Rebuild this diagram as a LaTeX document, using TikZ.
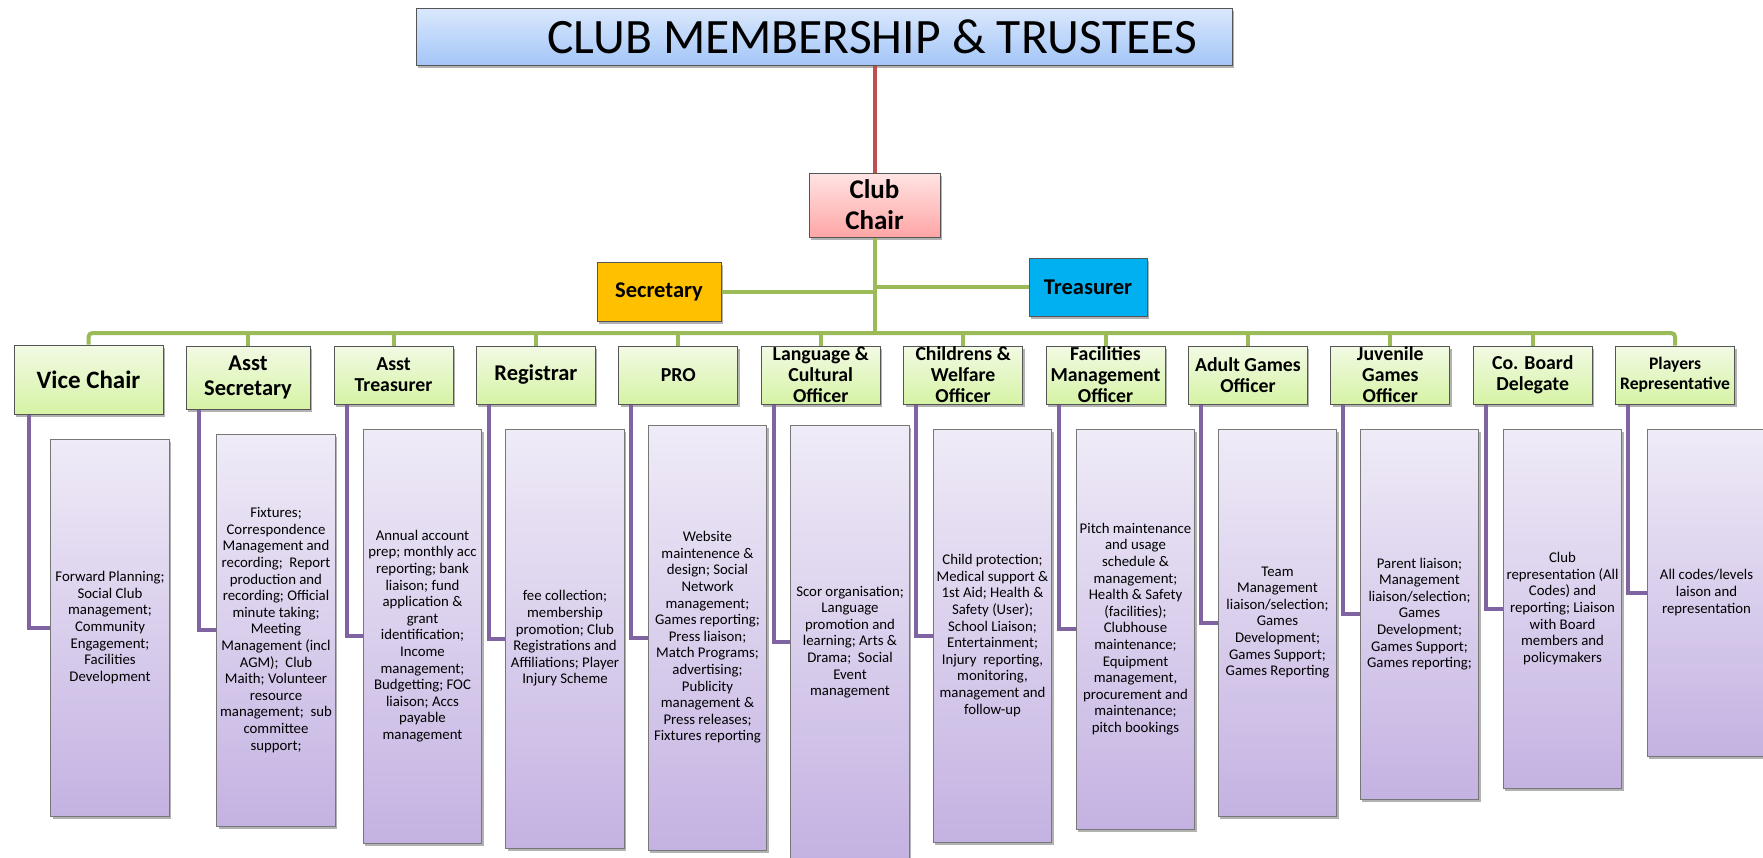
\documentclass[tikz,border=0pt]{standalone}
\usepackage{fontspec}
\setmainfont{Carlito}
\usetikzlibrary{shadows}
\definecolor{glineC}{RGB}{155,187,89}
\definecolor{plineC}{RGB}{128,100,162}
\definecolor{rlineC}{RGB}{192,80,77}
\definecolor{gTop}{RGB}{242,250,228}
\definecolor{gBot}{RGB}{214,243,165}
\definecolor{pTop}{RGB}{239,235,247}
\definecolor{pBot}{RGB}{196,178,226}
\definecolor{tTop}{RGB}{218,232,252}
\definecolor{tBot}{RGB}{164,198,248}
\definecolor{cTop}{RGB}{255,228,228}
\definecolor{cBot}{RGB}{255,165,165}
\definecolor{secC}{RGB}{255,192,0}
\definecolor{treC}{RGB}{0,176,240}
\definecolor{edgeC}{RGB}{85,85,85}
\tikzset{
  boxshadow/.style={drop shadow={shadow xshift=2pt,shadow yshift=-3pt,opacity=0.3,fill=black}},
  gbox/.style={draw=edgeC,line width=1pt,top color=gTop,bottom color=gBot,boxshadow,
    minimum width=119pt,minimum height=58pt,inner sep=0pt,align=center,
    font=\bfseries\fontsize{19.8}{21}\selectfont},
  dbox/.style={draw=edgeC!80,line width=1pt,top color=pTop,bottom color=pBot,boxshadow,
    minimum width=118.6pt,inner sep=0pt,align=center,
    font=\fontsize{14.8}{16.6}\selectfont},
  gl/.style={glineC,line width=4pt},
  pl/.style={plineC,line width=4pt},
  rl/.style={rlineC,line width=4pt},
}
\begin{document}
\begin{tikzpicture}[x=1pt,y=-1pt]
\useasboundingbox (0,0) rectangle (1763,857);
% top
\node[draw=edgeC,line width=1pt,top color=tTop,bottom color=tBot,boxshadow,
  minimum width=816pt,minimum height=57pt,inner sep=0pt,
  font=\fontsize{49.5}{52}\selectfont] (title) at (824,36.5) {\hspace*{96pt}CLUB MEMBERSHIP \& TRUSTEES};
\node[draw=edgeC,line width=1pt,top color=cTop,bottom color=cBot,boxshadow,
  minimum width=131pt,minimum height=64pt,inner sep=0pt,align=center,
  font=\bfseries\fontsize{27}{31}\selectfont] (chair) at (874.5,205) {Club\\Chair};
\node[draw=edgeC,line width=1pt,fill=secC,boxshadow,minimum width=124pt,minimum height=59pt,
  inner sep=0pt,font=\bfseries\fontsize{22.5}{25}\selectfont] (sec) at (659,291.5) {Secretary};
\node[draw=edgeC,line width=1pt,fill=treC,boxshadow,minimum width=118pt,minimum height=58pt,
  inner sep=0pt,font=\bfseries\fontsize{22.5}{25}\selectfont] (tre) at (1088,287) {Treasurer};
% role boxes
\node[gbox,minimum width=149pt,minimum height=69pt,font=\bfseries\fontsize{25}{28}\selectfont] (vc) at (88.5,379.5) {Vice Chair};
\node[gbox,minimum width=124pt,minimum height=63pt,font=\bfseries\fontsize{22.5}{25}\selectfont] (as) at (248,377.5) {Asst\\Secretary};
\node[gbox] (at) at (393.5,375) {Asst\\Treasurer};
\node[gbox,font=\bfseries\fontsize{22.5}{25}\selectfont] (reg) at (535.9,375) {Registrar};
\node[gbox] (pro) at (678.3,375) {PRO};
\node[gbox] (lang) at (820.7,375) {Language \&\\Cultural\\Officer};
\node[gbox] (child) at (963.1,375) {Childrens \&\\Welfare\\Officer};
\node[gbox] (fac) at (1105.5,375) {Facilities\\Management\\Officer};
\node[gbox] (adult) at (1247.9,375) {Adult Games\\Officer};
\node[gbox] (juv) at (1390.3,375) {Juvenile\\Games\\Officer};
\node[gbox] (cob) at (1532.7,375) {Co. Board\\Delegate};
\node[gbox,font=\bfseries\fontsize{17.6}{20}\selectfont] (pla) at (1675.1,375) {Players\\Representative};
% description boxes
\node[dbox,minimum height=377pt] (dvc) at (110,627.5) {Forward Planning;\\Social Club\\management;\\Community\\Engagement;\\Facilities\\Development};
\node[dbox,minimum height=392pt] (das) at (276,630) {Fixtures;\\Correspondence\\Management and\\recording;\ \ Report\\production and\\recording; Official\\minute taking;\\Meeting\\Management (incl\\AGM);\ \ Club\\Maith; Volunteer\\resource\\management;\ \ sub\\committee\\support;};
\node[dbox,minimum height=414pt] (dat) at (422.5,636) {Annual account\\prep; monthly acc\\reporting; bank\\liaison; fund\\application \&\\grant\\identification;\\Income\\management;\\Budgetting; FOC\\liaison; Accs\\payable\\management};
\node[dbox,minimum height=419pt] (dreg) at (565,638.5) {fee collection;\\membership\\promotion; Club\\Registrations and\\Affiliations; Player\\Injury Scheme};
\node[dbox,minimum height=425pt] (dpro) at (707.5,637.5) {Website\\maintenence \&\\design; Social\\Network\\management;\\Games reporting;\\Press liaison;\\Match Programs;\\advertising;\\Publicity\\management \&\\Press releases;\\Fixtures reporting};
\node[dbox,minimum height=434pt] (dlang) at (850,642) {Scor organisation;\\Language\\promotion and\\learning; Arts \&\\Drama;\ \ Social\\Event\\management};
\node[dbox,minimum height=413pt] (dchild) at (992.5,635.5) {Child protection;\\Medical support \&\\1st Aid; Health \&\\Safety (User);\\School Liaison;\\Entertainment;\\Injury\ \ reporting,\\monitoring,\\management and\\follow-up};
\node[dbox,minimum height=400pt] (dfac) at (1135.5,629) {Pitch maintenance\\and usage\\schedule \&\\management;\\Health \& Safety\\(facilities);\\Clubhouse\\maintenance;\\Equipment\\management,\\procurement and\\maintenance;\\pitch bookings};
\node[dbox,minimum height=387pt] (dadult) at (1277.5,622.5) {Team\\Management\\liaison/selection;\\Games\\Development;\\Games Support;\\Games Reporting};
\node[dbox,minimum height=370pt] (djuv) at (1419.5,614) {Parent liaison;\\Management\\liaison/selection;\\Games\\Development;\\Games Support;\\Games reporting;};
\node[dbox,minimum height=359pt] (dcob) at (1562.5,608.5) {Club\\representation (All\\Codes) and\\reporting; Liaison\\with Board\\members and\\policymakers};
\node[dbox,minimum height=327pt] (dpla) at (1706.5,592.5) {All codes/levels\\laison and\\representation};
% connectors
\coordinate (bus) at (0,333);
\draw[rl] (chair.north) -- (chair.north |- title.south);
\draw[gl] (chair.south) -- (chair.south |- bus);
\draw[gl] (sec.east) -- (sec.east -| chair.south);
\draw[gl] (tre.west) -- (tre.west -| chair.south);
\draw[gl,rounded corners=4pt] (vc.north) -- (vc.north |- bus) -- (pla.north |- bus) -- (pla.north);
\foreach \n in {as,at,reg,pro,lang,child,fac,adult,juv,cob}
  \draw[gl] (\n.north) -- (\n.north |- bus);
\draw[pl] ([xshift=15pt]vc.south west) |- (dvc.west);
\foreach \g/\d in {as/das,at/dat,reg/dreg,pro/dpro,lang/dlang,child/dchild,fac/dfac,adult/dadult,juv/djuv,cob/dcob,pla/dpla}
  \draw[pl] ([xshift=13pt]\g.south west) |- (\d.west);
\end{tikzpicture}
\end{document}
